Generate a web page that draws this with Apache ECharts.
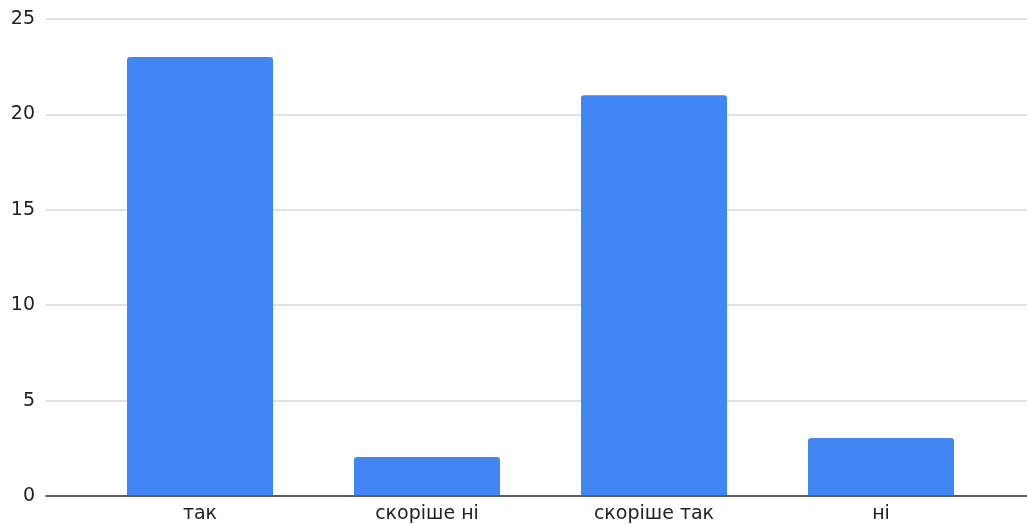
<!DOCTYPE html>
<html><head><meta charset="utf-8">
<script src="https://cdn.jsdelivr.net/npm/echarts@6/dist/echarts.min.js"></script>
<style>html,body{margin:0;padding:0;background:#fff}#c{width:1027px;height:524px}</style>
</head><body><div id="c"></div>
<script>
const categories = ['так', 'скоріше ні', 'скоріше так', 'ні'];
const values = [23, 2, 21, 3];
const yTicks = { min: 0, max: 25, interval: 5 };

const chart = echarts.init(document.getElementById('c'));
const font = 'DejaVu Sans, sans-serif';
chart.setOption({
  animation: false,
  grid: [
    { left: 46, right: 0, top: 19, bottom: 28 },
    { left: 86.5, right: 32.5, top: 19, bottom: 28 }
  ],
  xAxis: [
    { gridIndex: 0, type: 'value', min: 0, max: 1, axisLabel: { show: false }, axisTick: { show: false },
      splitLine: { show: false }, axisLine: { show: true, onZero: false, lineStyle: { color: '#333', width: 1.5 } } },
    { gridIndex: 1, type: 'category', data: categories, axisLine: { show: false }, axisTick: { show: false },
      axisLabel: { color: '#222', fontSize: 19, fontFamily: font, margin: 10 } }
  ],
  yAxis: [
    { gridIndex: 0, type: 'value', min: yTicks.min, max: yTicks.max, interval: yTicks.interval,
      axisLine: { show: false }, axisTick: { show: false },
      axisLabel: { color: '#222', fontSize: 19, fontFamily: font, margin: 11 },
      splitLine: { lineStyle: { color: '#d9d9d9', width: 1.5 } } },
    { gridIndex: 1, type: 'value', min: yTicks.min, max: yTicks.max, interval: yTicks.interval, show: false }
  ],
  series: [{
    type: 'bar', xAxisIndex: 1, yAxisIndex: 1, data: values, barWidth: 146,
    itemStyle: { color: '#4285F4', borderRadius: [3, 3, 0, 0] }, z: 1
  }]
});
</script></body></html>
